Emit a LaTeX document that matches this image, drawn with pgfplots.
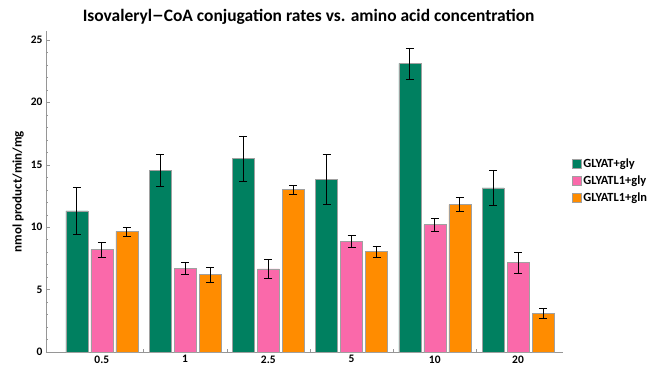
\documentclass[border=0pt]{standalone}
\usepackage{pgfplots}
\pgfplotsset{compat=1.18}
\usepackage{fontspec}
\setmainfont{Carlito}
\definecolor{cgreen}{RGB}{0,128,96}
\definecolor{cpink}{RGB}{250,105,170}
\definecolor{corange}{RGB}{255,140,0}
\definecolor{edge}{RGB}{160,160,160}
\definecolor{axgray}{RGB}{150,150,150}
\begin{document}
\begin{tikzpicture}
\begin{axis}[
  at={(0bp,0bp)}, anchor=south west,
  scale only axis,
  width=517bp, height=321bp,
  xmin=-0.67, xmax=5.54,
  ymin=0, ymax=25.7,
  ybar, bar width=22bp,
  axis x line*=bottom, axis y line*=left,
  axis line style={axgray, line width=0.6pt},
  xtick={0,1,2,3,4,5},
  xticklabels={0.5,1,2.5,5,10,20},
  major x tick style={draw=none},
  minor xtick={0.5,1.5,2.5,3.5,4.5},
  minor x tick style={axgray},
  ytick={0,5,10,15,20,25},
  minor y tick num=4,
  tick style={axgray},
  tick align=inside,
  major tick length=4bp,
  minor tick length=2.5bp,
  ticklabel style={font=\bfseries\fontsize{11.5}{13}\selectfont},
  /pgf/number format/assume math mode=true,
  ylabel={nmol product/min/mg},
  ylabel style={font=\bfseries\fontsize{13}{15}\selectfont, at={(axis description cs:-0.036,0.5)}, anchor=south},
  every axis plot/.append style={draw=edge, line width=0.4pt},
  error bars/error bar style={black, line width=0.6pt},
  error bars/error mark options={rotate=90, mark size=4bp, black, line width=0.6pt},
  legend style={at={(rel axis cs:1.017,0.61)}, anchor=north west, draw=none, fill=none,
    font=\bfseries\fontsize{12.5}{14}\selectfont, row sep=3bp, inner sep=0pt},
  legend cell align=left,
  legend image code/.code={\draw[#1, draw=edge] (0bp,-4.5bp) rectangle (9bp,4.5bp);},
  clip=false,
]
\addplot[fill=cgreen, bar shift=-25bp, error bars/.cd, y dir=both, y explicit]
coordinates {(0,11.3) +- (0,1.9) (1,14.55) +- (0,1.25) (2,15.5) +- (0,1.8) (3,13.8) +- (0,2.0) (4,23.1) +- (0,1.25) (5,13.15) +- (0,1.4)};
\addplot[fill=cpink, bar shift=0bp, error bars/.cd, y dir=both, y explicit]
coordinates {(0,8.2) +- (0,0.6) (1,6.7) +- (0,0.5) (2,6.65) +- (0,0.75) (3,8.85) +- (0,0.5) (4,10.2) +- (0,0.5) (5,7.15) +- (0,0.85)};
\addplot[fill=corange, bar shift=25bp, error bars/.cd, y dir=both, y explicit]
coordinates {(0,9.65) +- (0,0.35) (1,6.2) +- (0,0.6) (2,13.0) +- (0,0.35) (3,8.05) +- (0,0.45) (4,11.8) +- (0,0.55) (5,3.1) +- (0,0.4)};
\legend{GLYAT+gly,GLYATL1+gly,GLYATL1+gln}
\node[font=\bfseries\fontsize{17.5}{20}\selectfont, anchor=center] at (rel axis cs:0.508,1.045) {Isovaleryl{\fontspec{DejaVu Sans}\fontsize{14}{16}\selectfont\raisebox{0.5bp}{−}}CoA conjugation rates vs. amino acid concentration};
\end{axis}
\pgfresetboundingbox
\path (-46bp,-19bp) rectangle (606bp,352bp);
\end{tikzpicture}
\end{document}
